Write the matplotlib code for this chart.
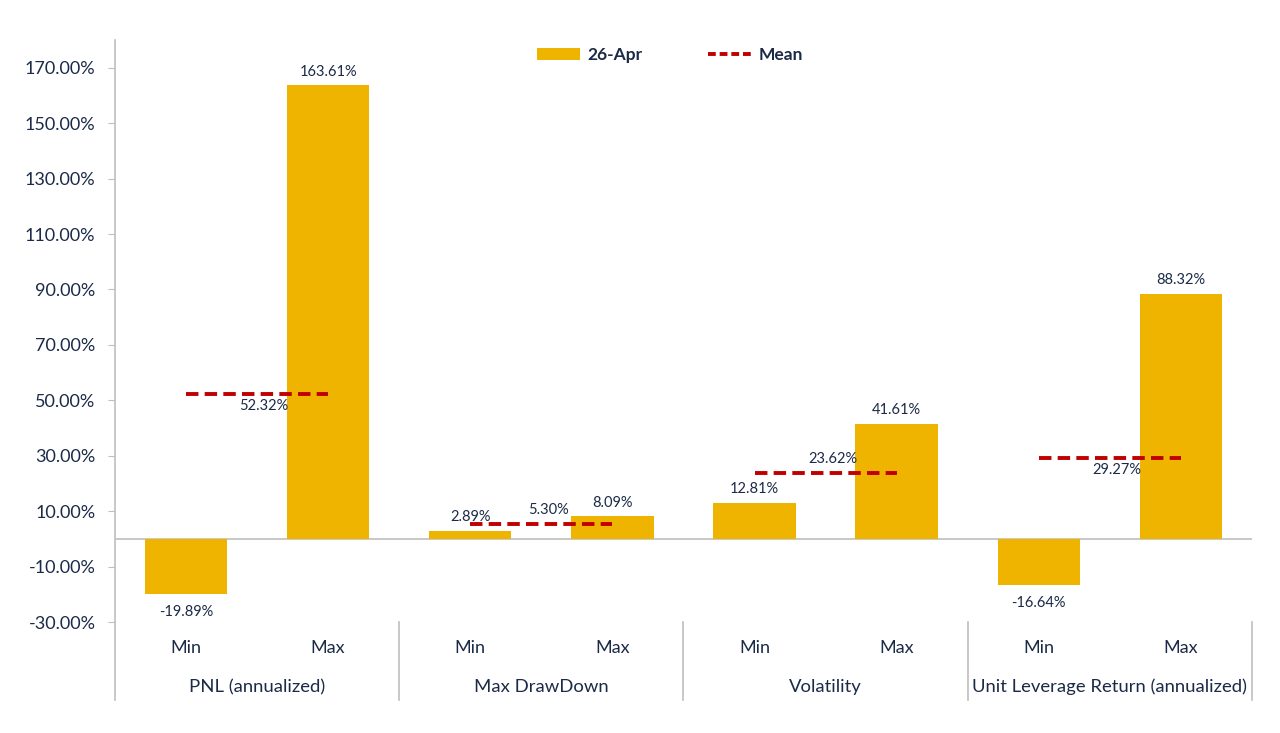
import numpy as np
import matplotlib.pyplot as plt
from matplotlib.lines import Line2D
from matplotlib.patches import Patch

plt.rcParams['font.family'] = ['Lato', 'DejaVu Sans']

# Data
groups = ['PNL (annualized)', 'Max DrawDown', 'Volatility', 'Unit Leverage Return (annualized)']
sub_labels = ['Min', 'Max']
values = np.array([-19.89, 163.61, 2.89, 8.09, 12.81, 41.61, -16.64, 88.32])
means = np.array([52.32, 5.30, 23.62, 29.27])
yticks = [-30, -10, 10, 30, 50, 70, 90, 110, 130, 150, 170]

bar_color = '#EFB400'
mean_color = '#C00000'
text_color = '#1B2A47'
axis_color = '#BFBFBF'

fig = plt.figure(figsize=(12.8, 7.33), dpi=100)
ax = fig.add_axes([0.0898, 0.1514, 0.8883, 0.794])

x = np.arange(len(values))
ax.bar(x, values, width=0.58, color=bar_color, zorder=2)

# value labels
for xi, v in zip(x, values):
    if v >= 0:
        ax.text(xi, v + 2.5, f'{v:.2f}%', ha='center', va='bottom', fontsize=10.5, color=text_color)
    else:
        ax.text(xi, v - 4, f'{v:.2f}%', ha='center', va='top', fontsize=10.5, color=text_color)

# mean lines
label_below = [True, False, False, True]
for g, m in enumerate(means):
    x0, x1 = 2 * g, 2 * g + 1
    ax.hlines(m, x0, x1, colors=mean_color, linewidth=2.8,
              linestyles=(0, (3.2, 1.6)), zorder=3)
    xm = (x0 + x1) / 2 + 0.05
    if label_below[g]:
        ax.text(xm, m - 2, f'{m:.2f}%', ha='center', va='top', fontsize=10.5, color=text_color)
    else:
        ax.text(xm, m + 2.5, f'{m:.2f}%', ha='center', va='bottom', fontsize=10.5, color=text_color)

ax.axhline(0, color=axis_color, linewidth=1.2, zorder=1)

ax.set_xlim(-0.5, len(values) - 0.5)
ax.set_ylim(-30, 180)
ax.set_yticks(yticks)
ax.set_yticklabels([f'{t:.2f}%' for t in yticks], fontsize=13, color=text_color)
ax.tick_params(axis='y', length=5, color=axis_color, pad=9)
ax.set_xticks([])

for s in ['top', 'right', 'bottom']:
    ax.spines[s].set_visible(False)
ax.spines['left'].set_color(axis_color)
ax.spines['left'].set_linewidth(1.2)

# category axis below
trans = ax.get_xaxis_transform()
for xi in x:
    ax.text(xi, -0.045, sub_labels[xi % 2], transform=trans, ha='center', va='center',
            fontsize=13, color=text_color)
for g, name in enumerate(groups):
    ax.text(2 * g + 0.5, -0.112, name, transform=trans, ha='center', va='center',
            fontsize=13.3, color=text_color)
for b in range(len(groups) + 1):
    xb = 2 * b - 0.5
    ax.plot([xb, xb], [0, -0.134], transform=trans, color=axis_color,
            linewidth=1.2, clip_on=False)

# legend
handles = [Patch(facecolor=bar_color, label='26-Apr'),
           Line2D([0], [0], color=mean_color, linewidth=2.8, linestyle=(0, (2.0, 1.0)), label='Mean')]
leg = ax.legend(handles=handles, loc='upper center', bbox_to_anchor=(0.488, 1.015), ncol=2,
                frameon=False, handlelength=2.5, handleheight=0.7, handletextpad=0.4,
                columnspacing=3.8, prop={'weight': 'bold', 'size': 12.5})
for t in leg.get_texts():
    t.set_color(text_color)

plt.savefig('out.png', dpi=100)
